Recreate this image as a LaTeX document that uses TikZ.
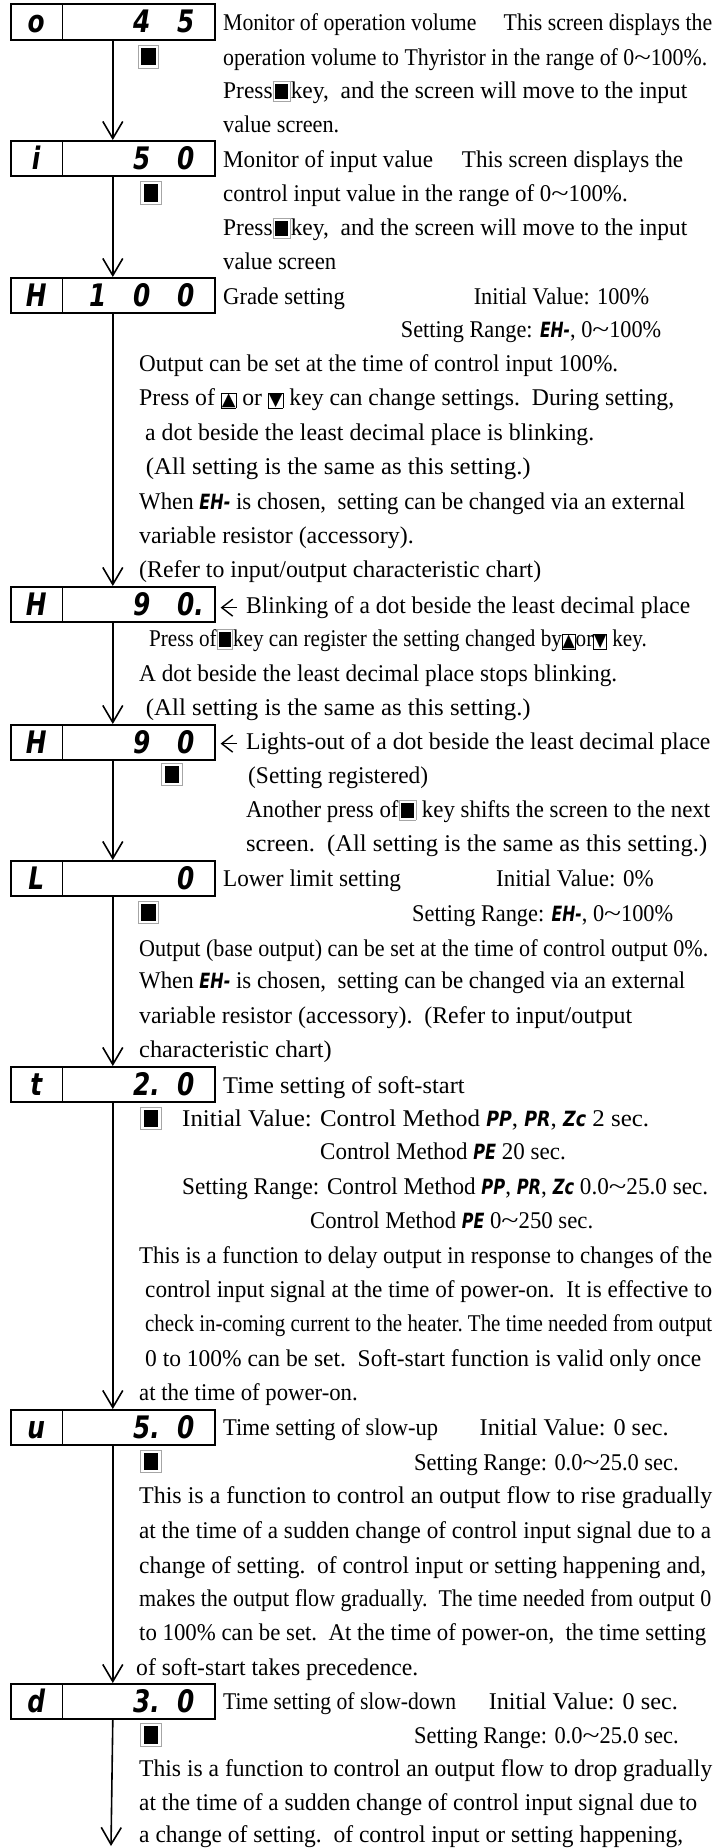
\documentclass[tikz,border=0pt]{standalone}
\usepackage{fontspec}
\usepackage{graphicx}
\setmainfont{Liberation Serif}
\newfontfamily\ledfont[FakeStretch=0.8]{DejaVu Sans}
\newfontfamily\symfont{DejaVu Sans}
\usetikzlibrary{arrows.meta,positioning,shapes.multipart}
\newcommand\cell[1]{\makebox[44pt]{#1}}
\newcommand\led[1]{{\ledfont\bfseries\itshape\fontsize{21}{21}\selectfont #1}}
\newcommand\keyicon{{\setlength\fboxsep{2pt}\setlength\fboxrule{0.8pt}\fcolorbox{gray!70}{white}{\rule{13pt}{15pt}}}}
\newcommand\upkey{{\setlength\fboxsep{0pt}\setlength\fboxrule{0.9pt}\fbox{\symfont\fontsize{18}{18}\selectfont ▲}}}
\newcommand\downkey{{\setlength\fboxsep{0pt}\setlength\fboxrule{0.9pt}\fbox{\symfont\fontsize{18}{18}\selectfont ▼}}}
\newcommand\wave{\scalebox{1.4}[1]{\textasciitilde}}
\newcommand\fitto[2]{\resizebox{#1pt}{\height}{#2}}
\tikzset{
  display/.style={rectangle split, rectangle split horizontal, rectangle split parts=2,
    draw, line width=1.8pt, inner sep=0pt, anchor=north west,
    font=\ledfont\bfseries\itshape\fontsize{31}{31}\selectfont},
  keynode/.style={inner sep=0pt},
  txt/.style={anchor=base west, inner sep=0pt, font=\fontsize{24}{24}\selectfont},
  flowarr/.style={-{Straight Barb[length=17pt,width=20pt]}, line width=1.6pt},
  markarr/.style={-{Straight Barb[length=11pt,width=17pt]}, line width=1.4pt, shorten >=5pt, shorten <=9pt}
}

\begin{document}
\begin{tikzpicture}[x=1pt, y=-1pt]
    \useasboundingbox (0,0) rectangle (714,1848);
    % displays
    \node[display] (d1) at (10,3.3) {\makebox[50.6pt]{\rule[-7pt]{0pt}{35.4pt}o}\nodepart{two}\makebox[151.4pt][r]{\cell{4}\cell{5}\hspace{7pt}}};
    \node[display] (d2) at (10,140) {\makebox[50.6pt]{\rule[-7pt]{0pt}{35.4pt}i}\nodepart{two}\makebox[151.4pt][r]{\cell{5}\cell{0}\hspace{7pt}}};
    \node[display] (d3) at (10,277) {\makebox[50.6pt]{\rule[-7pt]{0pt}{35.4pt}H}\nodepart{two}\makebox[151.4pt][r]{\cell{1}\cell{0}\cell{0}\hspace{7pt}}};
    \node[display] (d4) at (10,586) {\makebox[50.6pt]{\rule[-7pt]{0pt}{35.4pt}H}\nodepart{two}\makebox[151.4pt][r]{\cell{9}\cell{0\rlap{.}}\hspace{7pt}}};
    \node[display] (d5) at (10,724) {\makebox[50.6pt]{\rule[-7pt]{0pt}{35.4pt}H}\nodepart{two}\makebox[151.4pt][r]{\cell{9}\cell{0}\hspace{7pt}}};
    \node[display] (d6) at (10,860) {\makebox[50.6pt]{\rule[-7pt]{0pt}{35.4pt}L}\nodepart{two}\makebox[151.4pt][r]{\cell{0}\hspace{7pt}}};
    \node[display] (d7) at (10,1066) {\makebox[50.6pt]{\rule[-7pt]{0pt}{35.4pt}t}\nodepart{two}\makebox[151.4pt][r]{\cell{2\rlap{.}}\cell{0}\hspace{7pt}}};
    \node[display] (d8) at (10,1409) {\makebox[50.6pt]{\rule[-7pt]{0pt}{35.4pt}u}\nodepart{two}\makebox[151.4pt][r]{\cell{5\rlap{.}}\cell{0}\hspace{7pt}}};
    \node[display] (d9) at (10,1683) {\makebox[50.6pt]{\rule[-7pt]{0pt}{35.4pt}d}\nodepart{two}\makebox[151.4pt][r]{\cell{3\rlap{.}}\cell{0}\hspace{7pt}}};
    \coordinate (fin) at (111,1846);

    % key marks under the arrows
    \node[keynode] (k1) at (148.5,56.7) {\scalebox{1.15}{\keyicon}};
    \node[keynode] (k2) at (151,193) {\scalebox{1.15}{\keyicon}};
    \node[keynode] (k5) at (172,774.5) {\scalebox{1.15}{\keyicon}};
    \node[keynode] (k6) at (148.5,912.5) {\scalebox{1.15}{\keyicon}};
    \node[keynode] (k7) at (151,1118.5) {\scalebox{1.15}{\keyicon}};
    \node[keynode] (k8) at (151,1461.5) {\scalebox{1.15}{\keyicon}};
    \node[keynode] (k9) at (151,1735) {\scalebox{1.15}{\keyicon}};

    % operation volume
    \node[txt] (o1) at (223,30.2) {\fitto{489}{Monitor of operation volume\quad\ This screen displays the}};
    \node[txt] (o2) at (223,65.2) {\fitto{484}{operation volume to Thyristor in the range of 0\wave100\%.}};
    \node[txt] (o3) at (223,98.5) {\fitto{464}{Press\keyicon key,\ \ and the screen will move to the input}};
    \node[txt] (o4) at (223,132.5) {\fitto{116}{value screen.}};
    % input value
    \node[txt] (i1) at (223,167.5) {\fitto{460}{Monitor of input value\quad\ This screen displays the}};
    \node[txt] (i2) at (223,201.5) {\fitto{404.5}{control input value in the range of 0\wave100\%.}};
    \node[txt] (i3) at (223,235.5) {\fitto{464}{Press\keyicon key,\ \ and the screen will move to the input}};
    \node[txt] (i4) at (223,269.5) {\fitto{113}{value screen}};
    % grade
    \node[txt] (g1) at (223,304.5) {\fitto{121.7}{Grade setting}};
    \node[txt] (g2) at (473.6,304.5) {\fitto{175.4}{Initial Value: 100\%}};
    \node[txt] (g3) at (400.7,337.5) {\fitto{260.3}{Setting Range: \led{EH-}, 0\wave100\%}};
    \node[txt] (g4) at (139,371.5) {\fitto{479}{Output can be set at the time of control input 100\%.}};
    \node[txt] (g5) at (139,405.5) {\fitto{535}{Press of \upkey\ or \downkey\ key can change settings.\ \ During setting,}};
    \node[txt] (g6) at (145,440.5) {\fitto{449}{a dot beside the least decimal place is blinking.}};
    \node[txt] (g7) at (145.7,474.5) {\fitto{384.8}{(All setting is the same as this setting.)}};
    \node[txt] (g8) at (139,509.5) {\fitto{546}{When \led{EH-} is chosen,\ \ setting can be changed via an external}};
    \node[txt] (g9) at (139,543.5) {\fitto{274.5}{variable resistor (accessory).}};
    \node[txt] (g10) at (139,577.5) {\fitto{402}{(Refer to input/output characteristic chart)}};
    % blinking
    \node[txt] (b1) at (246,613.5) {\fitto{444}{Blinking of a dot beside the least decimal place}};
    \node[txt] (b2) at (149,646.5) {\fitto{497.6}{Press of\keyicon key can register the setting changed by\upkey or\downkey\ key.}};
    \node[txt] (b3) at (139,681.5) {\fitto{478}{A dot beside the least decimal place stops blinking.}};
    \node[txt] (b4) at (145.7,715.5) {\fitto{384.8}{(All setting is the same as this setting.)}};
    % registered
    \node[txt] (x1) at (246,749.5) {\fitto{464}{Lights-out of a dot beside the least decimal place}};
    \node[txt] (x2) at (248,783.5) {\fitto{180}{(Setting registered)}};
    \node[txt] (x3) at (246,817.5) {\fitto{464}{Another press of\keyicon\ key shifts the screen to the next}};
    \node[txt] (x4) at (246,851.5) {\fitto{461}{screen.\ \ (All setting is the same as this setting.)}};
    % lower limit
    \node[txt] (l1) at (223,886.5) {\fitto{177.7}{Lower limit setting}};
    \node[txt] (l2) at (496,886.5) {\fitto{157.5}{Initial Value: 0\%}};
    \node[txt] (l3) at (412,921.5) {\fitto{261}{Setting Range: \led{EH-}, 0\wave100\%}};
    \node[txt] (l4) at (139,956.5) {\fitto{569}{Output (base output) can be set at the time of control output 0\%.}};
    \node[txt] (l5) at (139,988.5) {\fitto{546}{When \led{EH-} is chosen,\ \ setting can be changed via an external}};
    \node[txt] (l6) at (139,1023.5) {\fitto{493}{variable resistor (accessory).\ \ (Refer to input/output}};
    \node[txt] (l7) at (139,1057.5) {\fitto{192.5}{characteristic chart)}};
    % soft-start
    \node[txt] (s1) at (223,1093.5) {\fitto{241.5}{Time setting of soft-start}};
    \node[txt] (s2) at (182,1126.5) {\fitto{467}{Initial Value: Control Method \led{PP}, \led{PR}, \led{Zc}\ 2 sec.}};
    \node[txt] (s3) at (320,1159.5) {\fitto{245.6}{Control Method \led{PE} 20 sec.}};
    \node[txt] (s4) at (182,1194.5) {\fitto{526}{Setting Range: Control Method \led{PP}, \led{PR}, \led{Zc}\ 0.0\wave25.0 sec.}};
    \node[txt] (s5) at (310,1228.5) {\fitto{283}{Control Method \led{PE} 0\wave250 sec.}};
    \node[txt] (s6) at (139,1263.5) {\fitto{573}{This is a function to delay output in response to changes of the}};
    \node[txt] (s7) at (145,1297.5) {\fitto{567}{control input signal at the time of power-on.\ \ It is effective to}};
    \node[txt] (s8) at (145,1331.5) {\fitto{567}{check in-coming current to the heater.\ The time needed from output}};
    \node[txt] (s9) at (145,1366.5) {\fitto{556}{0 to 100\% can be set.\ \ Soft-start function is valid only once}};
    \node[txt] (s10) at (139,1400.5) {\fitto{218.5}{at the time of power-on.}};
    % slow-up
    \node[txt] (u1) at (223,1435.5) {\fitto{215}{Time setting of slow-up}};
    \node[txt] (u2) at (479.5,1435.5) {\fitto{189}{Initial Value: 0 sec.}};
    \node[txt] (u3) at (414,1470.5) {\fitto{264.5}{Setting Range: 0.0\wave25.0 sec.}};
    \node[txt] (u4) at (139,1503.5) {\fitto{573}{This is a function to control an output flow to rise gradually}};
    \node[txt] (u5) at (139,1538.5) {\fitto{572}{at the time of a sudden change of control input signal due to a}};
    \node[txt] (u6) at (139,1573.5) {\fitto{567}{change of setting.\ \ of control input or setting happening and,}};
    \node[txt] (u7) at (139,1606.5) {\fitto{572}{makes the output flow gradually.\ \ The time needed from output 0}};
    \node[txt] (u8) at (139,1640.5) {\fitto{567}{to 100\% can be set.\ \ At the time of power-on,\ \ the time setting}};
    \node[txt] (u9) at (136,1675.5) {\fitto{282}{of soft-start takes precedence.}};
    % slow-down
    \node[txt] (w1) at (223,1709.5) {\fitto{233}{Time setting of slow-down}};
    \node[txt] (w2) at (488.6,1709.5) {\fitto{189}{Initial Value: 0 sec.}};
    \node[txt] (w3) at (414,1743.5) {\fitto{264.5}{Setting Range: 0.0\wave25.0 sec.}};
    \node[txt] (w4) at (139,1776.5) {\fitto{573}{This is a function to control an output flow to drop gradually}};
    \node[txt] (w5) at (139,1810.5) {\fitto{558}{at the time of a sudden change of control input signal due to}};
    \node[txt] (w6) at (139,1842) {\fitto{544}{a change of setting.\ \ of control input or setting happening,}};

    % flow
    \draw[flowarr] (d1.south) -- (d2.north);
    \draw[flowarr] (d2.south) -- (d3.north);
    \draw[flowarr] (d3.south) -- (d4.north);
    \draw[flowarr] (d4.south) -- (d5.north);
    \draw[flowarr] (d5.south) -- (d6.north);
    \draw[flowarr] (d6.south) -- (d7.north);
    \draw[flowarr] (d7.south) -- (d8.north);
    \draw[flowarr] (d8.south) -- (d9.north);
    \draw[flowarr] (d9.south) -- (fin);
    \draw[markarr] (b1.west) -- (b1.west -| d4.east);
    \draw[markarr] (x1.west) -- (x1.west -| d5.east);
  \end{tikzpicture}
\end{document}
